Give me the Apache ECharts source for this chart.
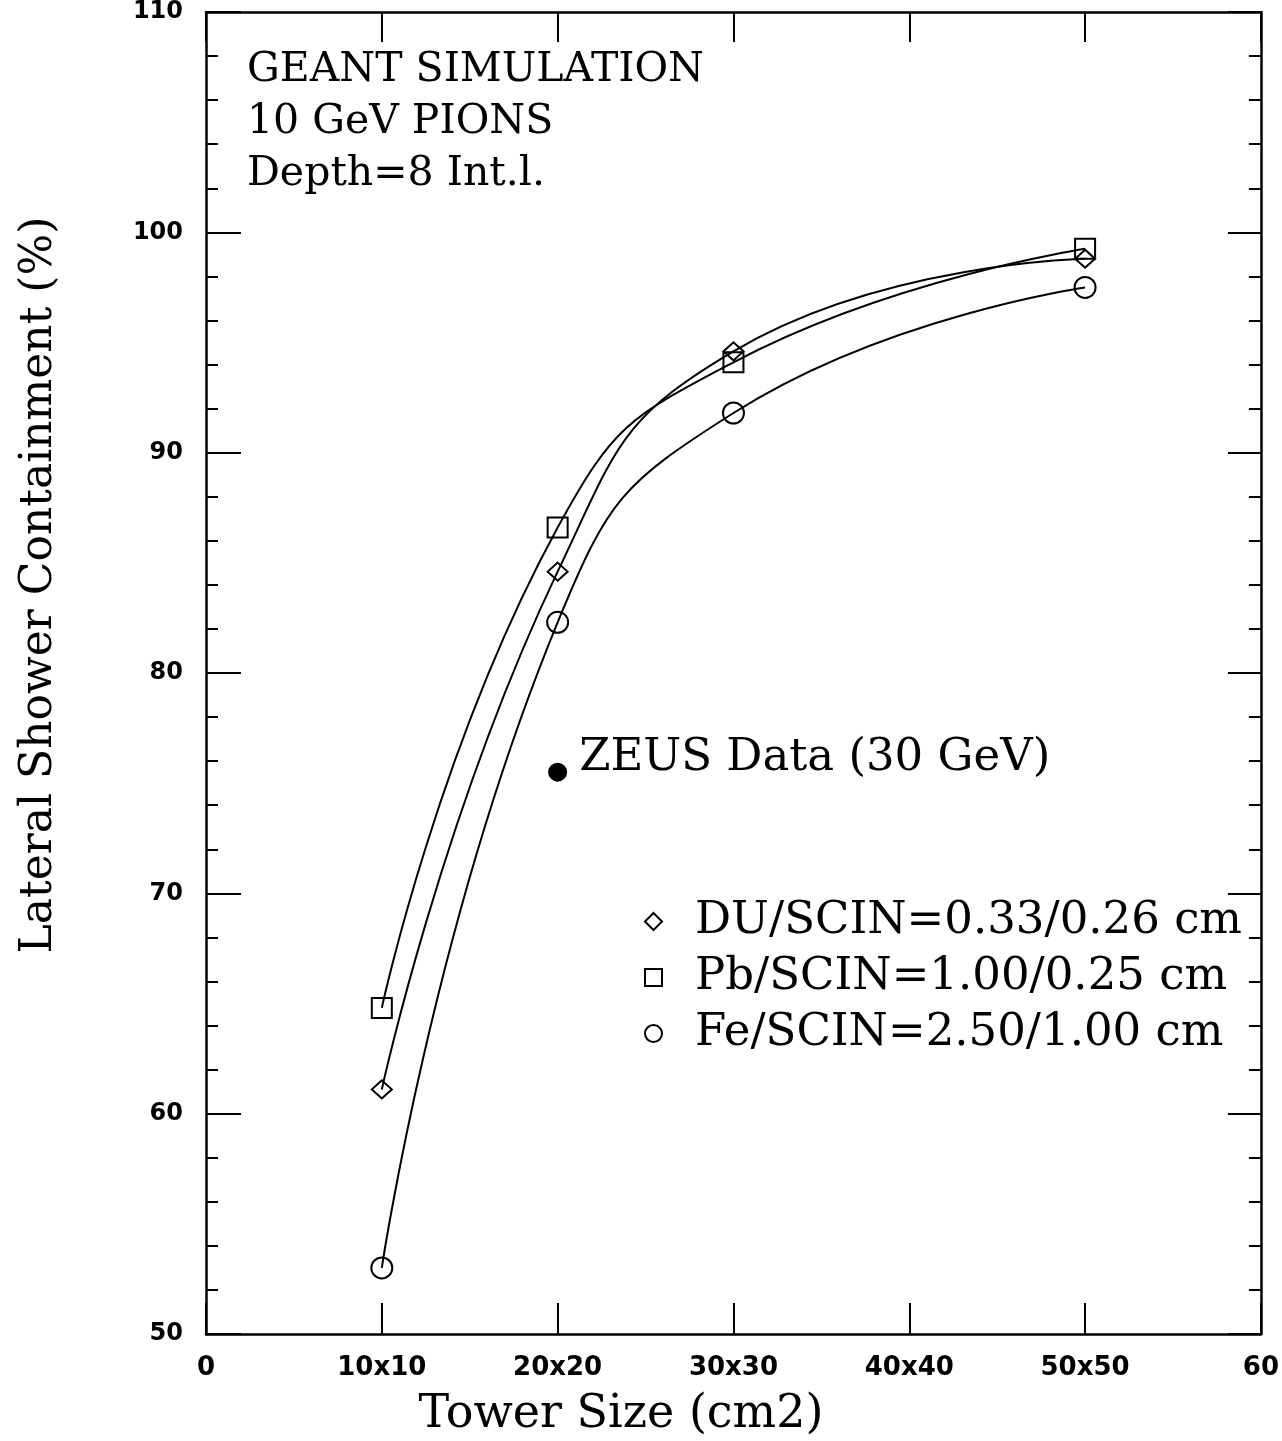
<!DOCTYPE html>
<html>
<head>
<meta charset="utf-8">
<script src="https://cdn.jsdelivr.net/npm/echarts@6/dist/echarts.min.js"></script>
<style>
html,body{margin:0;padding:0;background:#fff;}
#chart{width:1282px;height:1441px;}
</style>
</head>
<body>
<div id="chart"></div>
<script>
// ---- data ----
var towerSize = [10, 20, 30, 50];
var duScin = [61.1, 84.6, 94.6, 98.8];
var pbScin = [64.8, 86.6, 94.1, 99.25];
var feScin = [53.0, 82.3, 91.8, 97.5];
var zeusPoint = [20, 75.5];
var xTickLabels = {0: '0', 10: '10x10', 20: '20x20', 30: '30x30', 40: '40x40', 50: '50x50', 60: '60'};
var seriesNames = ['DU/SCIN=0.33/0.26 cm', 'Pb/SCIN=1.00/0.25 cm', 'Fe/SCIN=2.50/1.00 cm'];
var infoLines = ['GEANT SIMULATION', '10 GeV PIONS', 'Depth=8 Int.l.'];

function pairs(xs, ys) { return xs.map(function (x, i) { return [x, ys[i]]; }); }

var SERIF = '"DejaVu Serif", serif';
var SANS = '"DejaVu Sans", sans-serif';
var black = '#000';

var chart = echarts.init(document.getElementById('chart'), null, {renderer: 'canvas'});

function lineSeries(name, ys, symbol, size) {
  return {
    name: name,
    type: 'line',
    data: pairs(towerSize, ys),
    smooth: 0.5,
    symbol: symbol,
    symbolSize: size,
    showAllSymbol: true,
    lineStyle: {color: black, width: 2},
    itemStyle: {color: 'rgba(0,0,0,0)', borderColor: black, borderWidth: 2},
    emphasis: {disabled: true},
    z: 3
  };
}

var axisLine = {show: true, onZero: false, lineStyle: {color: black, width: 2.5}};

var option = {
  animation: false,
  backgroundColor: '#fff',
  title: {
    text: infoLines.join('\n'),
    left: 247,
    top: 44,
    padding: 0,
    textStyle: {fontFamily: SERIF, fontSize: 41, fontWeight: 'normal', color: black, lineHeight: 52}
  },
  grid: {left: 206, top: 10, right: 16, bottom: 107, containLabel: false},
  legend: {
    orient: 'vertical',
    left: 639,
    top: 894,
    itemWidth: 17,
    itemHeight: 17,
    itemGap: 11,
    selectedMode: false,
    itemStyle: {color: 'rgba(0,0,0,0)', borderColor: black, borderWidth: 2},
    textStyle: {fontFamily: SERIF, fontSize: 45, color: black, lineHeight: 44, padding: [0, 0, 0, 28]},
    data: [
      {name: seriesNames[0], icon: 'diamond'},
      {name: seriesNames[1], icon: 'rect'},
      {name: seriesNames[2], icon: 'circle'}
    ]
  },
  xAxis: [
    {
      type: 'value', position: 'bottom', min: 0, max: 60, interval: 10,
      axisLine: axisLine,
      axisTick: {show: true, inside: true, length: 31, lineStyle: {color: black, width: 2}},
      axisLabel: {
        show: true, margin: 21, color: black, fontFamily: SANS, fontSize: 26, fontWeight: 'bold',
        formatter: function (v) { return xTickLabels[v] !== undefined ? xTickLabels[v] : ''; }
      },
      splitLine: {show: false}
    },
    {
      type: 'value', position: 'top', min: 0, max: 60, interval: 10,
      axisLine: axisLine,
      axisTick: {show: true, inside: true, length: 30, lineStyle: {color: black, width: 2}},
      axisLabel: {show: false},
      splitLine: {show: false}
    }
  ],
  yAxis: [
    {
      type: 'value', position: 'left', min: 50, max: 110, interval: 10,
      axisLine: axisLine,
      axisTick: {show: true, inside: true, length: 35, lineStyle: {color: black, width: 2}},
      minorTick: {show: true, splitNumber: 5, length: 12, lineStyle: {color: black, width: 2}},
      axisLabel: {show: true, margin: 23, color: black, fontFamily: SANS, fontSize: 24, fontWeight: 'bold'},
      splitLine: {show: false}
    },
    {
      type: 'value', position: 'right', min: 50, max: 110, interval: 10,
      axisLine: axisLine,
      axisTick: {show: true, inside: true, length: 33, lineStyle: {color: black, width: 2}},
      minorTick: {show: true, splitNumber: 5, length: 12, lineStyle: {color: black, width: 2}},
      axisLabel: {show: false},
      splitLine: {show: false}
    }
  ],
  graphic: [
    {
      type: 'text', x: 40, y: 585, rotation: Math.PI / 2,
      style: {text: 'Lateral Shower Containment (%)', fontFamily: SERIF, fontSize: 44, fill: black,
              textAlign: 'center', textVerticalAlign: 'middle'}
    },
    {
      type: 'text', x: 621, y: 1415,
      style: {text: 'Tower Size (cm2)', fontFamily: SERIF, fontSize: 46, fill: black,
              textAlign: 'center', textVerticalAlign: 'middle'}
    }
  ],
  series: [
    lineSeries(seriesNames[0], duScin, 'diamond', [20, 18]),
    lineSeries(seriesNames[1], pbScin, 'rect', 20),
    lineSeries(seriesNames[2], feScin, 'circle', 21),
    {
      name: 'ZEUS Data (30 GeV)',
      type: 'scatter',
      data: [zeusPoint],
      symbol: 'circle',
      symbolSize: 19,
      itemStyle: {color: black, opacity: 1},
      emphasis: {disabled: true},
      label: {
        show: true, position: 'right', distance: 12, offset: [0, -14],
        formatter: 'ZEUS Data (30 GeV)',
        fontFamily: SERIF, fontSize: 45, color: black, opacity: 1
      },
      z: 4
    }
  ]
};

chart.setOption(option);
</script>
</body>
</html>
